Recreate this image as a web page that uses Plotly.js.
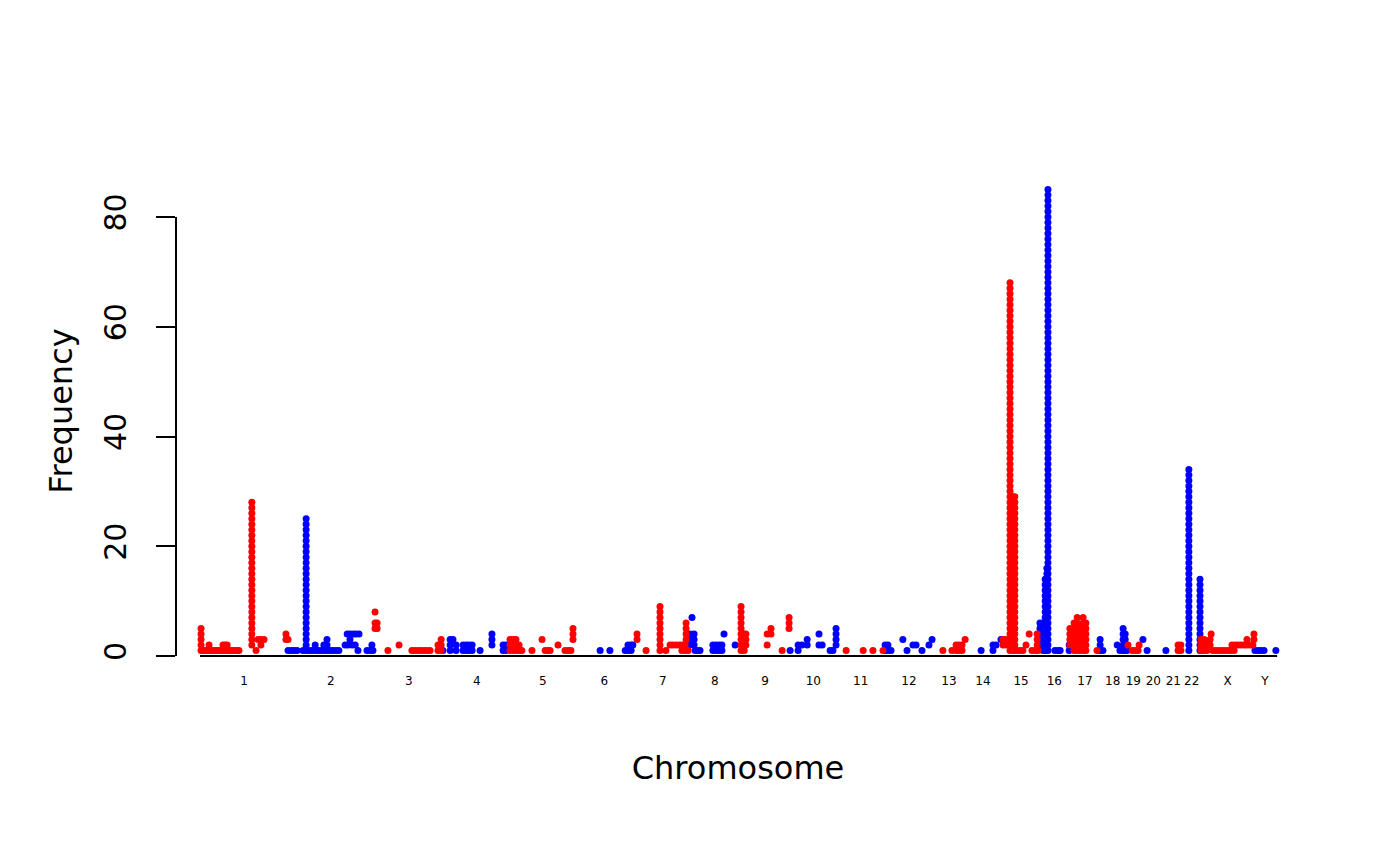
<!DOCTYPE html>
<html><head><meta charset="utf-8">
<script src="https://cdn.plot.ly/plotly-3.0.1.min.js"></script>
<style>html,body{margin:0;padding:0;background:#fff}#chart{width:1400px;height:866px}</style>
</head><body><div id="chart"></div>
<script>
// Chromosome labels and their positions along the genome (Mb, cumulative)
const chromLabels = ["1","2","3","4","5","6","7","8","9","10","11","12","13","14","15","16","17","18","19","20","21","22","X","Y"];
const chromLabelPos = [126.5,375.6,599.8,795.2,984.9,1162.0,1329.8,1479.2,1623.8,1762.6,1898.8,2037.7,2152.6,2250.3,2359.6,2455.3,2543.5,2623.1,2682.3,2739.8,2797.3,2850.1,2953.6,3060.8];
const genomeEnd = 3095.7;
const yTicks = [0,20,40,60,80];

// Red events: genomic position (Mb) and the frequency range stacked at that position
const redPos = [3,9,14,20,26,32,37,43,49,55,60,66,72,78,83,89,95,101,106,112,26,66,72,78,149,161,167,175,184,247,253,
  503,503,509,540,572,609,618,627,635,644,652,661,684,693,891,900,908,917,925,954,983,992,1000,1006,1029,1049,1058,1066,1072,
  1256,1282,1322,1339,1351,1359,1368,1377,1385,1394,1385,1394,1403,1397,1555,1564,1569,1630,1630,1641,1673,1693,
  1857,1906,1934,1963,2135,2161,2173,2181,2190,2199,2308,2316,2328,2337,2342,2348,2357,2365,2374,2383,2391,2400,2408,2406,
  2500,2512,2521,2529,2538,2546,2578,2667,2679,2687,2696,2699,2811,2819,2877,2886,2894,2903,2906,
  2911,2920,2929,2937,2946,2955,2963,2972,2966,2975,2983,2992,3001,3009,3018,3026,3009,3029];
const redLo = [1,1,1,1,1,1,1,1,1,1,1,1,1,1,1,1,1,1,1,1,2,2,2,2,2,1,3,2,3,3,3,
  5,8,5,1,2,1,1,1,1,1,1,1,1,1,1,1,1,1,1,1,3,1,1,1,2,1,1,1,3,
  3,1,1,1,2,2,2,2,2,2,1,1,1,3,1,1,2,2,4,4,1,5,
  1,1,1,1,1,1,1,1,1,3,2,2,1,1,1,1,1,1,2,4,1,1,1,2,
  2,1,1,1,1,1,1,2,1,1,1,2,1,1,1,1,1,2,4,
  1,1,1,1,1,1,1,1,2,2,2,2,2,2,2,2,3,3];
const redHi = [5,1,1,1,1,1,1,1,1,1,1,1,1,1,1,1,1,1,1,1,2,2,2,2,28,1,3,3,3,4,3,
  6,8,6,1,2,1,1,1,1,1,1,1,2,3,3,3,3,2,1,1,3,1,1,1,2,1,1,1,5,
  4,1,9,1,2,2,2,2,2,2,1,1,1,6,9,4,4,2,4,5,1,7,
  1,1,1,1,1,1,2,2,2,3,3,3,68,29,29,1,1,1,2,4,1,1,1,4,
  5,6,7,5,7,6,1,2,1,1,1,2,2,2,3,3,2,3,4,
  1,1,1,1,1,1,1,1,2,2,2,2,2,2,2,2,3,4];

// Blue events
const bluePos = [253,262,270,279,305,296,313,322,331,339,348,356,365,374,382,391,399,417,425,437,446,423,431,440,448,457,454,
  480,489,494,497,698,719,727,736,756,765,773,782,805,839,871,879,1150,1178,1222,1230,1239,1244,
  1408,1414,1420,1423,1431,1437,1474,1483,1492,1500,1506,1538,1696,1719,1730,1745,1779,1779,1788,1811,1819,1828,
  1969,1977,1986,2020,2032,2049,2058,2075,2095,2104,2245,2279,2288,2302,2414,2423,2429,2434,2437,2457,2466,
  2472,2498,2587,2595,2636,2644,2653,2659,2664,2710,2722,2776,2842,2874,3032,3041,3049,3058,3092];
const blueLo = [1,1,1,1,1,1,1,1,1,1,1,1,1,1,1,1,1,2,2,2,2,4,3,4,4,4,1,
  1,1,2,1,1,1,3,1,1,1,1,1,1,2,1,1,1,1,1,1,1,2,
  2,7,2,1,1,1,1,1,1,1,4,2,1,1,2,2,2,4,2,1,1,2,
  1,1,1,3,1,2,2,1,2,3,1,1,2,3,2,1,1,15,1,1,1,
  1,1,1,1,2,1,1,1,1,3,1,1,1,1,1,1,1,1,1];
const blueHi = [1,1,1,1,25,1,1,1,2,1,1,2,3,1,1,1,1,2,2,2,2,4,4,4,4,4,1,
  1,1,2,1,1,3,3,2,2,2,2,2,1,4,2,2,1,1,1,2,2,2,
  4,7,4,1,1,1,2,2,2,2,4,2,1,2,2,3,2,4,2,1,1,5,
  2,2,1,3,1,2,2,1,2,3,1,2,2,3,6,6,14,16,85,1,1,
  1,2,3,1,2,1,5,4,1,3,1,1,34,14,1,1,1,1,1];

function expand(pos, lo, hi) {
  const xs = [], ys = [];
  for (let i = 0; i < pos.length; i++) {
    for (let k = lo[i]; k <= hi[i]; k++) { xs.push(pos[i]); ys.push(k); }
  }
  return {xs, ys};
}
const blue = expand(bluePos, blueLo, blueHi);
const red = expand(redPos, redLo, redHi);

const FONT = "DejaVu Sans, sans-serif";
const traces = [
  {type:'scatter', mode:'markers', x:blue.xs, y:blue.ys, marker:{color:'#0000FF', size:7, line:{width:0}}, hoverinfo:'skip', showlegend:false, cliponaxis:false},
  {type:'scatter', mode:'markers', x:red.xs, y:red.ys, marker:{color:'#FF0000', size:7, line:{width:0}}, hoverinfo:'skip', showlegend:false, cliponaxis:false}
];

const layout = {
  width:1400, height:866,
  paper_bgcolor:'#ffffff', plot_bgcolor:'#ffffff',
  margin:{l:176, r:100, t:150, b:194},
  font:{family:FONT, color:'#000'},
  xaxis:{
    range:[-69.0, 3161.4], showgrid:false, zeroline:false, showline:false,
    tickmode:'array', tickvals:chromLabelPos, ticktext:chromLabels, ticks:'', tickangle:0,
    tickfont:{family:FONT, size:12, color:'#000'},
    title:{text:'Chromosome', font:{family:FONT, size:32, color:'#000'}, standoff:69},
    automargin:false, fixedrange:true
  },
  yaxis:{
    range:[-2.916, 92.21], showgrid:false, zeroline:false, showline:false,
    tickmode:'array', tickvals:yTicks, ticks:'outside', ticklen:19, tickwidth:2, tickcolor:'#000',
    tickangle:-90, tickfont:{family:FONT, size:30, color:'#000'}, ticklabelstandoff:18,
    title:{text:'Frequency', font:{family:FONT, size:32, color:'#000'}, standoff:15},
    automargin:false, fixedrange:true
  },
  shapes:[
    {type:'line', xref:'paper', yref:'y', x0:0, x1:0, y0:0, y1:80, line:{color:'#000', width:2}},
    {type:'line', xref:'x', yref:'y', x0:0, x1:genomeEnd, y0:0, y1:0, line:{color:'#000', width:2}, layer:'below'}
  ]
};

Plotly.newPlot('chart', traces, layout, {displayModeBar:false, staticPlot:true});
</script>
</body></html>
